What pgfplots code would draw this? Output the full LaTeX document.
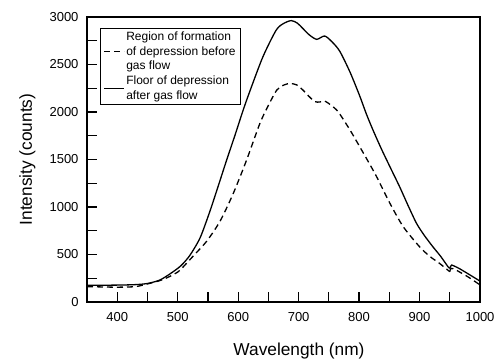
\documentclass[border=0pt]{standalone}
\usepackage{fontspec}
\setmainfont{Liberation Sans}
\usepackage{pgfplots}
\pgfplotsset{compat=1.18}
\begin{document}
\begin{tikzpicture}
\begin{axis}[
  scale only axis,
  width=393bp, height=285bp,
  xmin=350, xmax=1000, ymin=0, ymax=3000,
  xtick={400,500,...,1000},
  minor xtick={450,550,...,950},
  ytick={0,500,...,3000},
  minor ytick={250,750,...,2750},
  tick align=inside,
  tick pos=left,
  major tick length=10bp,
  minor tick length=10bp,
  every tick/.style={black, line width=1.2bp},
  axis line style={line width=1.3bp},
  /pgf/number format/assume math mode=true,
  /pgf/number format/1000 sep={},
  ticklabel style={font=\fontsize{13bp}{15bp}\selectfont},
  xticklabel style={yshift=-7bp},
  yticklabel style={xshift=-5bp},
  xlabel={Wavelength (nm)},
  ylabel={Intensity (counts)},
  label style={font=\fontsize{17.3bp}{20bp}\selectfont},
  xlabel style={at={(axis description cs:0.5394,-0.186)}, anchor=base},
  ylabel style={at={(axis description cs:-0.14,0.5)}, anchor=base},
  legend style={at={(axis description cs:0.033,0.962)}, anchor=north west,
    draw=black, line width=1bp, font=\fontsize{12bp}{14.5bp}\selectfont,
    nodes={align=left, inner sep=1.5bp}, row sep=2bp},
  legend cell align=left,
  legend image code/.code={\draw[#1] (0bp,0bp) -- (20bp,0bp);},
]
\addplot[black, line width=1.3bp, dash pattern=on 6bp off 4bp, smooth, tension=0.45] coordinates {
(350,162) (380,158) (400,156) (430,162) (450,190) (475,235) (500,315) (515,410) (528,500)
(548,640) (570,850) (592,1144) (614,1495) (636,1881)
(650,2070) (664,2232) (676,2285) (686,2300) (697,2285) (707,2232) (717,2165)
(727,2109) (735,2105) (743,2115) (753,2075) (763,2020) (771,1951) (786,1800)
(801,1635) (815,1480) (829,1319) (851,1039) (873,793) (900,582) (917,480)
(933,407) (950,319)};
\addlegendentry{Region of formation\\of depression before\\gas flow}
\addplot[black, line width=1.3bp, smooth, tension=0.45] coordinates {
(350,176) (400,178) (430,183) (450,195) (470,230) (487,295) (505,380)
(520,490) (537,675) (553,950) (567,1220) (581,1495) (595,1760) (608,2015)
(620,2230) (641,2582) (663,2863) (676,2935) (688,2962) (698,2935) (707,2879)
(718,2810) (730,2765) (743,2800) (755,2740) (768,2640) (785,2420) (801,2170)
(812,1980) (823,1810) (837,1610) (851,1424) (867,1214) (880,1030) (895,828)
(908,700) (922,582) (935,480) (947,372) (950,355)};
\addlegendentry{Floor of depression\\after gas flow}
\addplot[black, line width=1.3bp, dash pattern=on 6bp off 4bp, smooth, tension=0.3, forget plot] coordinates {
(950,319) (952,355) (960,338) (980,265) (1000,180)};
\addplot[black, line width=1.3bp, smooth, tension=0.3, forget plot] coordinates {
(950,355) (953,389) (965,355) (980,298) (1000,220)};
\end{axis}
\path (current axis.south west) ++(-87bp,-58bp);
\path (current axis.north east) ++(20bp,17bp);
\end{tikzpicture}
\end{document}
